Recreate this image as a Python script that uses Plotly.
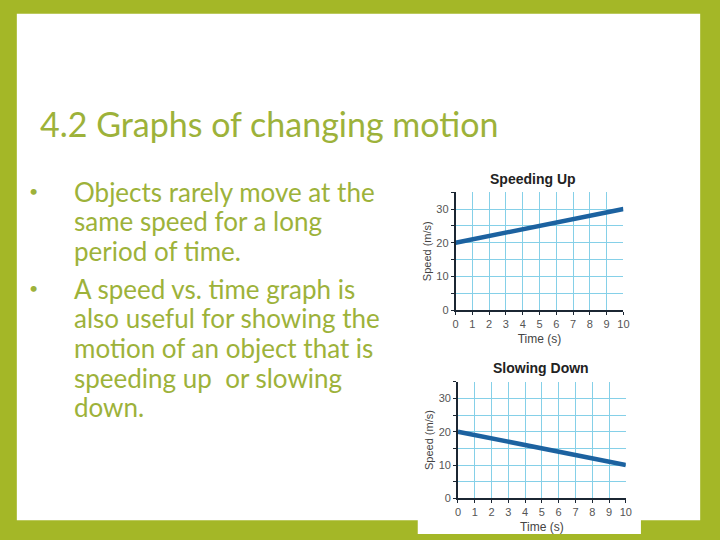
import plotly.graph_objects as go

# slide text
title_text = "4.2 Graphs of changing motion"
bullet1_lines = ["Objects rarely move at the", "same speed for a long", "period of time."]
bullet2_lines = ["A speed vs. time graph is", "also useful for showing the",
                 "motion of an object that is", "speeding up  or slowing", "down."]

# chart data
time_s = [0, 1, 2, 3, 4, 5, 6, 7, 8, 9, 10]
speeding_up = [20, 21, 22, 23, 24, 25, 26, 27, 28, 29, 30]
slowing_down = [20, 19, 18, 17, 16, 15, 14, 13, 12, 11, 10]
y_ticks = [0, 5, 10, 15, 20, 25, 30, 35]
y_ticktext = ["0", "", "10", "", "20", "", "30", ""]

GREEN = "#a4b727"
TEXT_GREEN = "#9db23a"
GRID = "#85d0e8"
AXIS = "#1b2633"
LINE = "#1c62a0"
W, H = 720, 540

def px(x):
    return x / W

def py(y):
    return 1 - y / H

fig = go.Figure()

fig.add_trace(go.Scatter(x=time_s, y=speeding_up, mode="lines",
                         line=dict(color=LINE, width=4.5), xaxis="x", yaxis="y",
                         showlegend=False, hoverinfo="skip"))
fig.add_trace(go.Scatter(x=time_s, y=slowing_down, mode="lines",
                         line=dict(color=LINE, width=4.5), xaxis="x2", yaxis="y2",
                         showlegend=False, hoverinfo="skip"))

xax = dict(range=[0, 10], tickvals=time_s, showgrid=True, gridcolor=GRID, gridwidth=1,
           showline=True, linecolor=AXIS, linewidth=1.5, ticks="outside", ticklen=3,
           tickcolor=AXIS, tickfont=dict(family="Liberation Sans", size=11, color="#555"),
           title=dict(text="Time (s)", font=dict(family="Liberation Sans", size=12, color="#444"),
                      standoff=5),
           zeroline=False, fixedrange=True)
yax = dict(range=[0, 35], tickvals=y_ticks, ticktext=y_ticktext, showgrid=True, gridcolor=GRID,
           gridwidth=1, showline=True, linecolor=AXIS, linewidth=1.5, ticks="outside", ticklen=3,
           tickcolor=AXIS, tickfont=dict(family="Liberation Sans", size=11, color="#555"),
           title=dict(text="Speed (m/s)", font=dict(family="Liberation Sans", size=11, color="#444"),
                      standoff=3),
           zeroline=False, fixedrange=True)

fig.update_layout(
    width=W, height=H, margin=dict(l=0, r=0, t=0, b=0),
    paper_bgcolor=GREEN, plot_bgcolor="white",
    xaxis=dict(xax, domain=[px(458.3), px(628.3)], anchor="y"),
    yaxis=dict(yax, domain=[py(313.7), py(194.3)], anchor="x"),
    xaxis2=dict(xax, domain=[px(460.7), px(630.7)], anchor="y2"),
    yaxis2=dict(yax, domain=[py(504), py(386)], anchor="x2"),
)

# white slide area and the white chart picture that overlaps the bottom border
fig.add_shape(type="rect", xref="paper", yref="paper", x0=px(14), x1=px(706),
              y0=py(526), y1=py(14), fillcolor="white", line_width=0, layer="below")
fig.add_shape(type="rect", xref="paper", yref="paper", x0=px(420), x1=px(646),
              y0=0, y1=py(400), fillcolor="white", line_width=0, layer="below")

# title
fig.add_annotation(text=title_text, xref="paper", yref="paper", x=px(35), y=py(125),
                   xanchor="left", yanchor="middle", showarrow=False,
                   font=dict(family="Lato", size=34, color=TEXT_GREEN))

# bullets
for lines, base in [(bullet1_lines, 201.7), (bullet2_lines, 300)]:
    fig.add_annotation(text="•", xref="paper", yref="paper", x=px(31), y=py(base - 9),
                       xanchor="center", yanchor="middle", showarrow=False,
                       font=dict(family="Lato", size=16, color=TEXT_GREEN))
    for i, ln in enumerate(lines):
        fig.add_annotation(text=ln, xref="paper", yref="paper", x=px(70),
                           y=py(base + 30 * i - 8), xanchor="left", yanchor="middle",
                           showarrow=False, font=dict(family="Lato", size=26, color=TEXT_GREEN))

# chart titles
fig.add_annotation(text="<b>Speeding Up</b>", xref="paper", yref="paper", x=px(537), y=py(181),
                   xanchor="center", yanchor="middle", showarrow=False,
                   font=dict(family="Liberation Sans", size=14, color="#222"))
fig.add_annotation(text="<b>Slowing Down</b>", xref="paper", yref="paper", x=px(545), y=py(372),
                   xanchor="center", yanchor="middle", showarrow=False,
                   font=dict(family="Liberation Sans", size=14, color="#222"))

# the page body has a default 8px margin; drop it so the figure fills the window
fig.write_html("out.html", config={"displayModeBar": False},
               post_script="document.body.style.margin='0';")
